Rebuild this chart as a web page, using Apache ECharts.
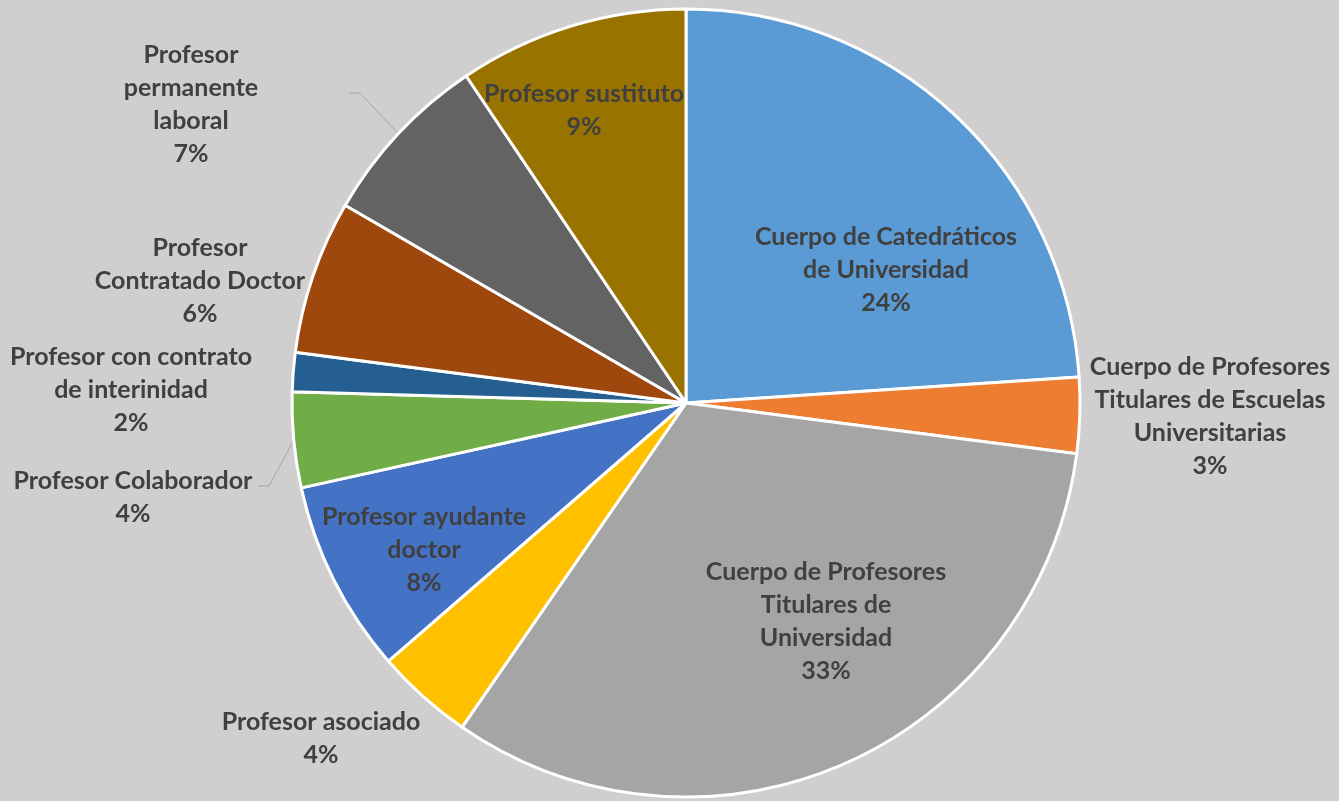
<!DOCTYPE html>
<html>
<head>
<meta charset="utf-8">
<script src="https://cdn.jsdelivr.net/npm/echarts@6/dist/echarts.min.js"></script>
<style>
html, body { margin: 0; padding: 0; background: #d0cece; }
#chart { width: 1339px; height: 801px; }
</style>
</head>
<body>
<div id="chart"></div>
<script>
// datos del gráfico (porcentaje del profesorado por categoría)
var categories = [
    'Cuerpo de Catedráticos de Universidad',
    'Cuerpo de Profesores Titulares de Escuelas Universitarias',
    'Cuerpo de Profesores Titulares de Universidad',
    'Profesor asociado',
    'Profesor ayudante doctor',
    'Profesor Colaborador',
    'Profesor con contrato de interinidad',
    'Profesor Contratado Doctor',
    'Profesor permanente laboral',
    'Profesor sustituto'
];
var labelText = [
    'Cuerpo de Catedráticos\nde Universidad',
    'Cuerpo de Profesores\nTitulares de Escuelas\nUniversitarias',
    'Cuerpo de Profesores\nTitulares de\nUniversidad',
    'Profesor asociado',
    'Profesor ayudante\ndoctor',
    'Profesor Colaborador',
    'Profesor con contrato\nde interinidad',
    'Profesor\nContratado Doctor',
    'Profesor\npermanente\nlaboral',
    'Profesor sustituto'
];
var values = [23.9, 3.1, 32.5, 4.0, 7.9, 3.9, 1.6, 6.3, 7.2, 9.4];
var colors = ['#5b9bd5', '#ed7d31', '#a5a5a5', '#ffc000', '#4472c4',
              '#70ad47', '#255e91', '#9e480e', '#636363', '#997300'];

// colocación de etiquetas (centro del texto) y líneas guía
var insideLabel = [true, false, true, false, true, false, false, false, false, true];
var labelSpots = [
    [886, 270], [1210, 416], [826, 621], [321, 738], [424, 550],
    [133, 497], [131, 390], [200, 281], [191, 104], [584, 110]
];
var leaderLines = { 5: [125, -11], 8: [158, -11] };

var data = categories.map(function (name, i) {
    return {
        name: name,
        value: values[i],
        itemStyle: { color: colors[i] },
        label: { position: insideLabel[i] ? 'inside' : 'outside' },
        labelLine: { show: leaderLines[i] != null }
    };
});

function loadChart(id, option) {
    var myChart = echarts.init(document.getElementById(id));
    myChart.setOption(option);
    return myChart;
}

loadChart('chart', {
    backgroundColor: '#d0cece',
    animation: false,
    series: [{
        type: 'pie',
        center: [686, 403],
        radius: 394,
        startAngle: 90,
        clockwise: true,
        avoidLabelOverlap: false,
        itemStyle: { borderColor: '#ffffff', borderWidth: 3 },
        emphasis: { disabled: true },
        label: {
            rotate: 0,
            color: '#404040',
            fontFamily: 'Lato',
            fontWeight: 'bold',
            fontSize: 25,
            lineHeight: 33,
            align: 'center',
            formatter: function (p) {
                return labelText[p.dataIndex] + '\n' + Math.round(p.percent) + '%';
            }
        },
        labelLine: {
            length: 10,
            length2: 10,
            lineStyle: { color: '#a6a6a6', width: 1 }
        },
        labelLayout: function (p) {
            var i = p.dataIndex;
            var s = labelSpots[i];
            var out = { x: s[0], y: s[1], align: 'center', verticalAlign: 'middle' };
            var l = leaderLines[i];
            if (l && p.labelLinePoints) {
                var end = [s[0] + l[0], s[1] + l[1]];
                out.labelLinePoints = [p.labelLinePoints[0], [end[0] + 11, end[1]], end];
            }
            return out;
        },
        data: data
    }]
});
</script>
</body>
</html>
